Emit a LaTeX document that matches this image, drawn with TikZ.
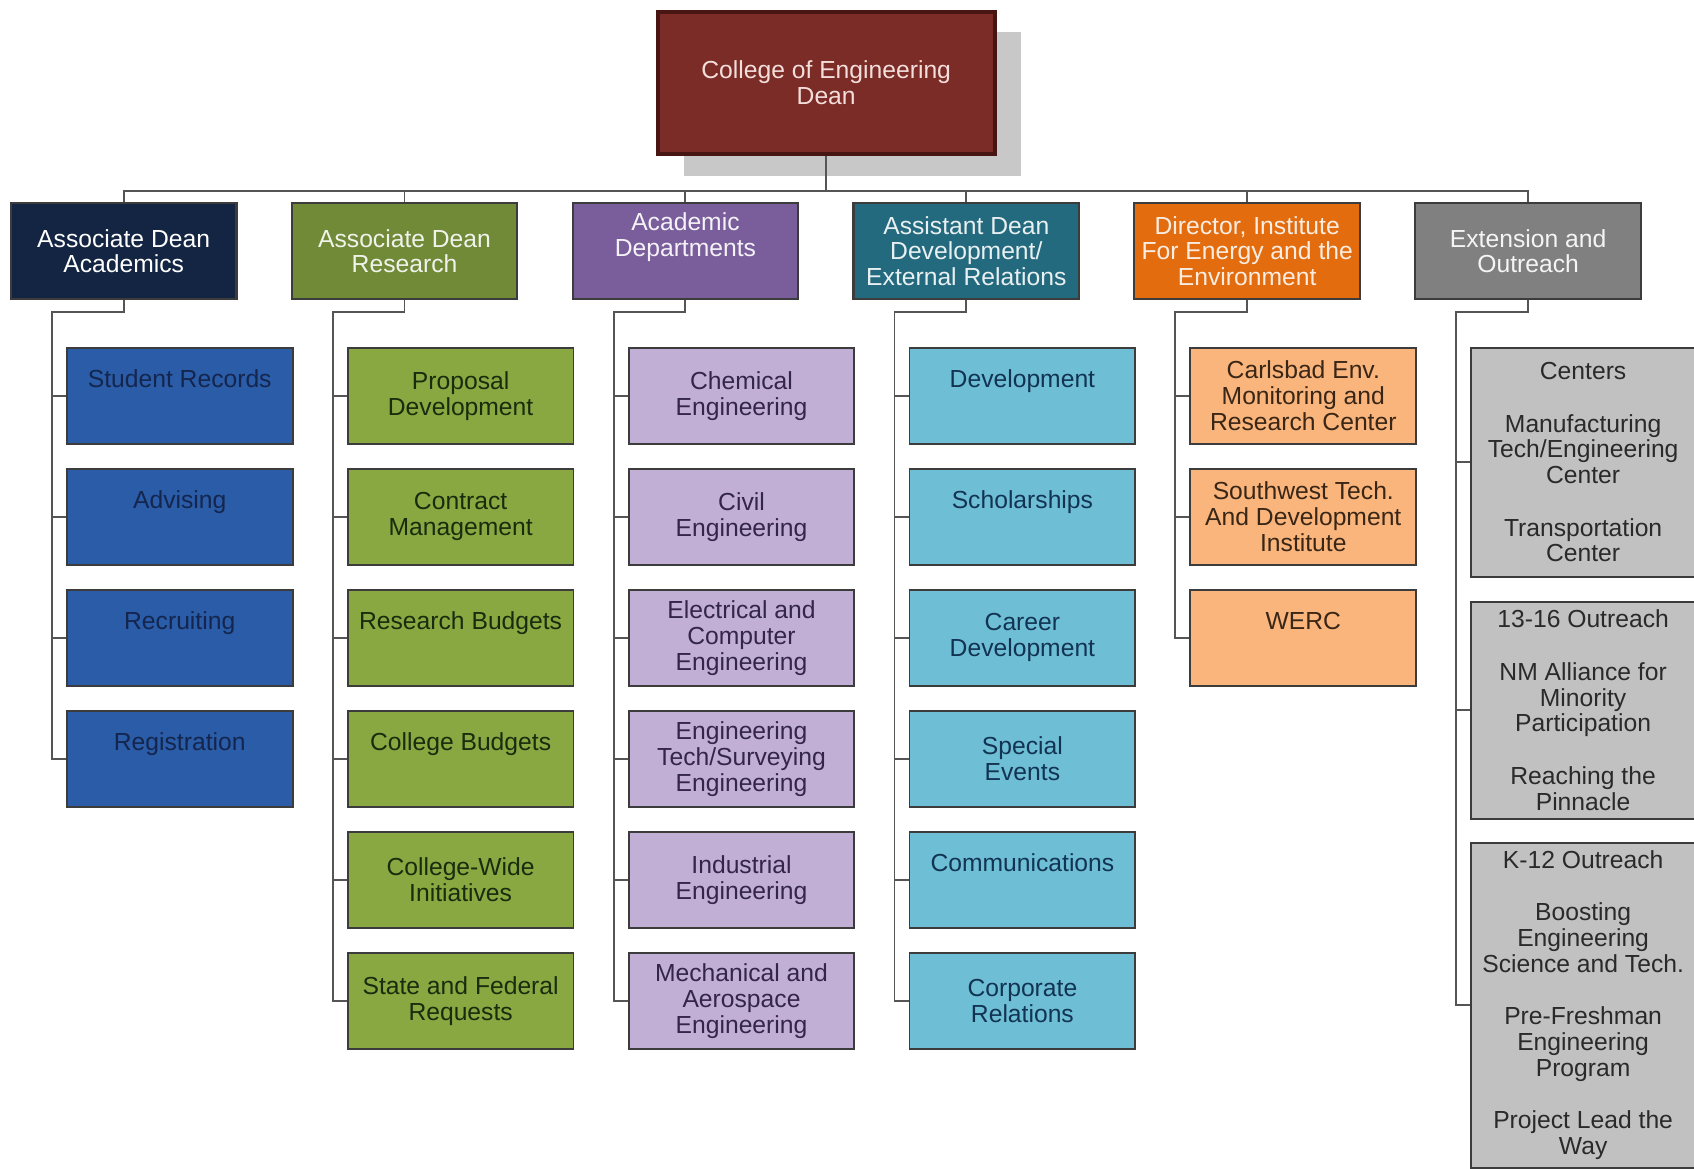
\documentclass[tikz,border=0pt]{standalone}
\usepackage{fontspec}
\setmainfont{Liberation Sans}
\usetikzlibrary{calc}

\definecolor{deanred}{RGB}{123,44,38}
\definecolor{deanedge}{RGB}{72,22,18}
\definecolor{deantext}{RGB}{244,222,220}
\definecolor{shadowgray}{RGB}{200,200,200}
\definecolor{boxedge}{RGB}{60,60,60}
\definecolor{linkgray}{RGB}{85,85,85}
% heads
\definecolor{acadnavy}{RGB}{19,37,66}
\definecolor{reschgreen}{RGB}{112,138,56}
\definecolor{deptpurple}{RGB}{122,94,156}
\definecolor{develteal}{RGB}{36,106,126}
\definecolor{enerorange}{RGB}{226,108,14}
\definecolor{outrgray}{RGB}{128,128,128}
% sub boxes
\definecolor{acadsub}{RGB}{42,92,168}
\definecolor{acadtext}{RGB}{20,38,78}
\definecolor{reschsub}{RGB}{137,168,66}
\definecolor{reschtext}{RGB}{26,44,14}
\definecolor{deptsub}{RGB}{193,175,213}
\definecolor{depttext}{RGB}{52,38,72}
\definecolor{develsub}{RGB}{110,190,213}
\definecolor{develtext}{RGB}{18,52,82}
\definecolor{enersub}{RGB}{249,181,124}
\definecolor{enertext}{RGB}{58,38,22}
\definecolor{outrsub}{RGB}{193,193,193}
\definecolor{outrtext}{RGB}{42,42,42}

\tikzset{
  every node/.style={font=\fontsize{13}{13.6}\selectfont},
  box/.style={rectangle, anchor=north west, align=center, inner sep=2pt},
  head/.style 2 args={box, draw=boxedge, line width=1.1pt, fill=#1, text=#2,
    minimum width=4.18cm, minimum height=1.78cm},
  sub/.style 2 args={box, draw=boxedge, line width=1pt, fill=#1, text=#2,
    minimum width=4.18cm, minimum height=1.78cm},
  link/.style={draw=linkgray, line width=1pt},
}

\begin{document}
\begin{tikzpicture}[x=0.02cm,y=-0.02cm]
  \useasboundingbox (0,0) rectangle (1568,1082);

  % dean with its shadow
  \fill[shadowgray] (633,30) rectangle (945,163);
  \node[box, draw=deanedge, line width=2pt, fill=deanred, text=deantext,
        minimum width=6.24cm, minimum height=2.64cm]
        (dean) at (607,9) {College of Engineering\\Dean};
  \coordinate (busy) at (0,177);
  \coordinate (bus) at (dean.south |- busy);

  % first level
  \node[head={acadnavy}{white}] (acad) at (9,187) {Associate Dean\\Academics};
  \node[head={reschgreen}{white!90!reschgreen}] (resch) at (269,187) {Associate Dean\\Research};
  \node[head={deptpurple}{white!92!deptpurple}] (dept) at (529,187) {Academic\\Departments\\\strut};
  \node[head={develteal}{white!90!develteal}] (devel) at (789,187) {Assistant Dean\\Development/\\External Relations};
  \node[head={enerorange}{white!88!enerorange}] (ener) at (1049,187) {Director, Institute\\For Energy and the\\Environment};
  \node[head={outrgray}{white!92!outrgray}] (outr) at (1309,187) {Extension and\\Outreach};

  % academics
  \node[sub={acadsub}{acadtext}] (acad1) at (61,321) {Student Records\\\strut};
  \node[sub={acadsub}{acadtext}] (acad2) at (61,433) {Advising\\\strut};
  \node[sub={acadsub}{acadtext}] (acad3) at (61,545) {Recruiting\\\strut};
  \node[sub={acadsub}{acadtext}] (acad4) at (61,657) {Registration\\\strut};

  % research
  \node[sub={reschsub}{reschtext}] (resch1) at (321,321) {Proposal\\Development};
  \node[sub={reschsub}{reschtext}] (resch2) at (321,433) {Contract\\Management};
  \node[sub={reschsub}{reschtext}] (resch3) at (321,545) {Research Budgets\\\strut};
  \node[sub={reschsub}{reschtext}] (resch4) at (321,657) {College Budgets\\\strut};
  \node[sub={reschsub}{reschtext}] (resch5) at (321,769) {College-Wide\\Initiatives};
  \node[sub={reschsub}{reschtext}] (resch6) at (321,881) {State and Federal\\Requests};

  % departments
  \node[sub={deptsub}{depttext}] (dept1) at (581,321) {Chemical\\Engineering};
  \node[sub={deptsub}{depttext}] (dept2) at (581,433) {Civil\\Engineering};
  \node[sub={deptsub}{depttext}] (dept3) at (581,545) {Electrical and\\Computer\\Engineering};
  \node[sub={deptsub}{depttext}] (dept4) at (581,657) {Engineering\\Tech/Surveying\\Engineering};
  \node[sub={deptsub}{depttext}] (dept5) at (581,769) {Industrial\\Engineering};
  \node[sub={deptsub}{depttext}] (dept6) at (581,881) {Mechanical and\\Aerospace\\Engineering};

  % development
  \node[sub={develsub}{develtext}] (devel1) at (841,321) {Development\\\strut};
  \node[sub={develsub}{develtext}] (devel2) at (841,433) {Scholarships\\\strut};
  \node[sub={develsub}{develtext}] (devel3) at (841,545) {Career\\Development};
  \node[sub={develsub}{develtext}] (devel4) at (841,657) {Special\\Events};
  \node[sub={develsub}{develtext}] (devel5) at (841,769) {Communications\\\strut};
  \node[sub={develsub}{develtext}] (devel6) at (841,881) {Corporate\\Relations};

  % energy
  \node[sub={enersub}{enertext}] (ener1) at (1101,321) {Carlsbad Env.\\Monitoring and\\Research Center};
  \node[sub={enersub}{enertext}] (ener2) at (1101,433) {Southwest Tech.\\And Development\\Institute};
  \node[sub={enersub}{enertext}] (ener3) at (1101,545) {WERC\\\strut};

  % outreach
  \node[sub={outrsub}{outrtext}, minimum width=4.14cm, minimum height=4.24cm]
    (outr1) at (1361,321) {Centers\\[14pt]Manufacturing\\Tech/Engineering\\Center\\[14pt]Transportation\\Center};
  \node[sub={outrsub}{outrtext}, minimum width=4.14cm, minimum height=4.02cm]
    (outr2) at (1361,556) {13-16 Outreach\\[14pt]NM Alliance for\\Minority\\Participation\\[14pt]Reaching the\\Pinnacle};
  \node[sub={outrsub}{outrtext}, minimum width=4.14cm, minimum height=6.02cm]
    (outr3) at (1361,779) {K-12 Outreach\\[14pt]Boosting\\Engineering\\Science and Tech.\\[14pt]Pre-Freshman\\Engineering\\Program\\[14pt]Project Lead the\\Way};

  % connectors
  \draw[link] (dean.south) -- (bus);
  \foreach \p in {acad,resch,dept,devel,ener,outr}
    \draw[link] (bus) -| (\p.north);
  \foreach \p/\n in {acad/4,resch/6,dept/6,devel/6,ener/3,outr/3}
    \foreach \i in {1,...,\n}
      \draw[link] (\p.south) |- ++(-66.5,11) |- (\p\i.west);
\end{tikzpicture}
\end{document}
